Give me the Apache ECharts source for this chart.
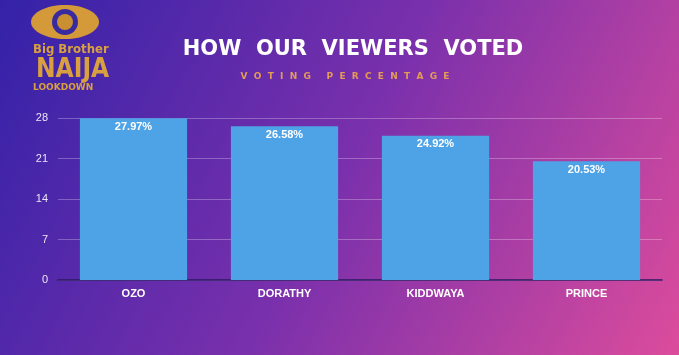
<!DOCTYPE html>
<html><head><meta charset="utf-8">
<script src="https://cdn.jsdelivr.net/npm/echarts@6/dist/echarts.min.js"></script>
<style>html,body{margin:0;padding:0;}#c{width:679px;height:355px;}</style>
</head><body><div id="c"></div>
<script>
var categories = ['OZO', 'DORATHY', 'KIDDWAYA', 'PRINCE'];
var votes = [27.97, 26.58, 24.92, 20.53];
var yTicks = [0, 7, 14, 21, 28];

var chart = echarts.init(document.getElementById('c'));
var gold = '#d9a040';
chart.setOption({
  backgroundColor: {
    type: 'linear', x: 0, y: 0, x2: 1, y2: 1,
    colorStops: [
      {offset: 0, color: '#3322a8'},
      {offset: 0.5, color: '#7a30ac'},
      {offset: 1, color: '#dc4c9c'}
    ]
  },
  title: [{
    text: 'HOW  OUR  VIEWERS  VOTED', left: 348, top: 34, textAlign: 'center',
    textStyle: {color: '#ffffff', fontSize: 21, fontWeight: 'bold', fontFamily: 'DejaVu Sans'}
  }, {
    text: 'V  O  T  I  N  G     P  E  R  C  E  N  T  A  G  E', left: 340, top: 67, textAlign: 'center',
    textStyle: {color: '#e49c55', fontSize: 9, fontWeight: 'bold', fontFamily: 'DejaVu Sans'}
  }],
  graphic: [
    {type: 'ellipse', shape: {cx: 65, cy: 22, rx: 34, ry: 17}, style: {fill: '#d49a3a'}},
    {type: 'circle', shape: {cx: 65, cy: 22, r: 13}, style: {fill: '#3a2aa0'}},
    {type: 'circle', shape: {cx: 65, cy: 22, r: 8}, style: {fill: '#c98f30'}},
    {type: 'text', left: 33, top: 43, style: {text: 'Big Brother', fill: gold, font: 'bold 13px "Liberation Sans Narrow", "DejaVu Sans Condensed", sans-serif'}},
    {type: 'text', left: 36, top: 57, style: {text: 'NAIJA', fill: gold, font: 'bold 26px "DejaVu Sans Condensed", sans-serif'}},
    {type: 'text', left: 33, top: 83, style: {text: 'LOOKDOWN', fill: gold, font: 'bold 9px "DejaVu Sans", sans-serif'}}
  ],
  grid: {left: 58, right: 17, top: 118, bottom: 75},
  xAxis: {
    type: 'category', data: categories,
    axisLine: {lineStyle: {color: '#2a1860', width: 1.5}},
    axisTick: {show: false},
    axisLabel: {color: '#ffffff', fontWeight: 'bold', fontSize: 11, margin: 8, fontFamily: 'Liberation Sans'}
  },
  yAxis: {
    type: 'value', min: yTicks[0], max: yTicks[yTicks.length - 1], interval: 7,
    axisLine: {show: false}, axisTick: {show: false},
    axisLabel: {color: '#ece4f4', fontSize: 11, margin: 10, fontFamily: 'Liberation Sans'},
    splitLine: {lineStyle: {color: 'rgba(255,255,255,0.28)', width: 1}}
  },
  series: [{
    type: 'bar', data: votes, barCategoryGap: '29%',
    itemStyle: {color: '#4ea2e6'},
    label: {
      show: true, position: 'insideTop', distance: 3,
      formatter: function (p) { return p.value.toFixed(2) + '%'; },
      color: '#ffffff', fontWeight: 'bold', fontSize: 11, fontFamily: 'Liberation Sans'
    }
  }]
});
</script></body></html>
